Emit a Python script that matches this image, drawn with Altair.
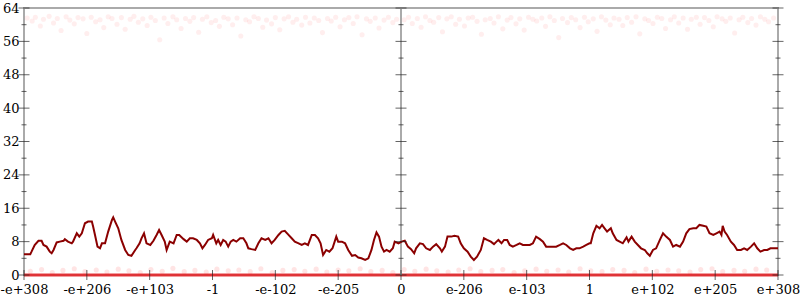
import altair as alt
import pandas as pd

# ---- axis tick labels -------------------------------------------------
x_tick_pos = [-6, -5, -4, -3, -2, -1, 0, 1, 2, 3, 4, 5, 6]
x_labels = ["-e+308", "-e+206", "-e+103", "-1", "-e-102", "-e-205", "0",
            "e-206", "e-103", "1", "e+102", "e+205", "e+308"]
y_major = [0, 8, 16, 24, 32, 40, 48, 56, 64]
y_minor = [4, 12, 20, 28, 36, 44, 52, 60]
axis_x = [-6, 0, 6]

# ---- running average of bits of error (dark red line) ----------------
avg_x = [-6.0,-5.9,-5.88,-5.83,-5.77,-5.72,-5.69,-5.64,-5.59,-5.56,-5.53,-5.48,-5.43,-5.37,-5.35,-5.3,-5.24,-5.22,-5.16,-5.12,
         -5.08,-5.03,-4.98,-4.92,-4.9,-4.87,-4.83,-4.79,-4.76,-4.71,-4.66,-4.6,-4.58,-4.55,-4.5,-4.45,-4.39,-4.34,-4.29,-4.23,
         -4.21,-4.16,-4.13,-4.09,-4.05,-3.99,-3.94,-3.89,-3.85,-3.81,-3.76,-3.73,-3.68,-3.62,-3.57,-3.53,-3.46,-3.41,-3.36,-3.31,
         -3.25,-3.2,-3.16,-3.12,-3.07,-3.01,
         -2.99,-2.94,-2.91,-2.87,-2.83,-2.79,-2.75,-2.71,-2.67,-2.62,-2.56,-2.51,-2.46,-2.43,-2.38,-2.32,-2.27,-2.22,-2.16,-2.11,
         -2.06,-2.01,-1.95,-1.9,-1.85,-1.79,-1.74,-1.69,-1.63,-1.58,-1.53,-1.48,-1.42,-1.37,-1.32,-1.28,-1.24,-1.19,-1.14,-1.09,
         -1.03,-1.0,-0.94,-0.89,-0.84,-0.78,-0.73,-0.68,-0.63,-0.57,-0.52,-0.47,-0.43,-0.39,-0.35,-0.31,-0.27,-0.23,-0.18,-0.13,
         -0.1,-0.04,
         0.01,0.06,0.11,0.16,0.21,0.24,0.3,0.35,0.4,0.46,0.51,0.56,0.62,0.65,0.7,0.74,0.8,0.85,0.91,0.95,
         1.0,1.06,1.11,1.16,1.21,1.27,1.32,1.37,1.43,1.48,1.52,1.55,1.6,1.64,1.69,1.73,1.78,1.84,1.89,1.94,
         1.99,2.05,2.1,2.15,2.21,2.26,2.31,2.37,2.42,2.47,2.53,2.58,2.63,2.69,2.74,2.79,2.84,2.9,2.95,3.0,
         3.02,3.06,3.11,3.16,3.2,3.24,3.28,3.34,3.37,3.43,3.48,3.53,3.59,3.62,3.67,3.72,3.77,3.82,3.88,3.92,
         3.96,4.01,4.06,4.12,4.17,4.22,4.28,4.33,4.38,4.44,4.49,4.54,4.59,4.65,4.7,4.75,4.81,4.86,4.91,4.97,
         5.02,5.07,5.1,5.12,5.15,5.19,5.25,5.3,5.35,5.41,5.46,5.51,5.57,5.62,5.67,5.72,5.78,5.83,5.88,5.94,
         6.0]
avg_y = [5.0,5.0,5.6,7.2,8.2,8.2,7.2,6.8,5.6,5.2,6.0,7.8,8.0,8.2,8.6,8.0,7.6,8.0,10.0,9.2,
         10.0,12.4,12.8,12.8,11.6,9.6,6.8,6.4,7.6,7.6,10.4,13.2,13.8,12.8,11.2,8.4,6.0,4.8,4.6,6.0,
         6.4,7.6,8.8,10.0,7.6,7.2,8.2,9.6,10.8,9.6,8.0,6.0,8.0,7.6,9.6,9.6,8.6,8.0,8.8,8.8,
         8.4,7.6,6.4,7.2,8.4,8.8,
         9.6,7.6,8.4,7.2,8.4,8.0,6.8,8.0,8.4,8.0,8.8,8.8,7.6,6.4,6.2,6.0,7.6,8.8,8.4,8.8,
         7.6,8.4,9.6,10.4,10.6,9.6,8.8,8.0,7.6,7.2,7.6,7.2,9.6,9.6,8.8,7.6,4.8,6.0,5.6,6.4,
         9.2,8.0,8.0,7.6,6.0,4.6,4.8,4.2,4.0,3.6,4.0,6.0,8.4,10.2,9.2,6.8,5.6,6.0,5.6,6.4,
         8.0,7.6,
         8.0,8.2,6.8,6.2,5.2,6.4,7.6,7.4,6.4,6.0,6.8,7.4,6.4,5.6,6.8,9.2,9.2,9.4,9.2,7.6,
         6.4,5.6,4.4,3.6,4.4,6.0,8.8,8.4,8.0,7.4,8.0,8.4,7.6,8.4,8.4,7.2,6.8,7.2,7.6,7.2,
         7.2,7.2,7.6,9.2,8.6,8.0,6.8,6.8,6.8,6.8,7.2,7.6,7.2,6.4,6.0,6.4,6.4,6.8,7.2,7.6,
         7.6,10.0,11.8,11.2,12.0,11.2,10.4,11.2,10.0,8.4,8.0,7.6,9.0,8.0,9.2,8.0,7.2,6.4,6.0,5.2,
         4.6,6.0,6.4,8.4,10.0,9.2,8.4,6.8,7.2,6.8,8.0,10.0,11.0,11.2,11.2,12.0,11.8,11.6,10.0,9.6,
         10.0,10.4,9.6,11.8,10.4,9.6,8.0,7.2,6.0,6.0,6.4,6.0,6.8,7.6,6.4,5.6,6.0,6.0,6.4,6.4,
         6.4]

# ---- high-error sample points (top band) -----------------------------
top_x = [-5.95,-5.87,-5.82,-5.74,-5.69,-5.6,-5.53,-5.47,-5.41,-5.33,
         -5.27,-5.2,-5.14,-5.06,-5.0,-4.93,-4.86,-4.79,-4.73,-4.66,
         -4.6,-4.52,-4.45,-4.39,-4.31,-4.25,-4.18,-4.11,-4.04,-3.98,
         -3.91,-3.84,-3.77,-3.71,-3.63,-3.57,-3.5,-3.43,-3.36,-3.3,
         -3.22,-3.16,-3.09,-3.02,-2.95,-2.89,-2.82,-2.75,-2.68,-2.61,
         -2.55,-2.47,-2.41,-2.34,-2.27,-2.2,-2.14,-2.06,-2.0,-1.93,
         -1.86,-1.79,-1.72,-1.66,-1.58,-1.52,-1.45,-1.38,-1.31,-1.25,
         -1.17,-1.11,-1.04,-0.97,-0.9,-0.83,-0.76,-0.7,-0.62,-0.55,
         -0.49,-0.41,-0.35,-0.27,-0.2,-0.13,-0.07,
         0.05,0.12,0.18,0.26,0.32,0.39,0.46,0.52,0.6,0.66,
         0.73,0.8,0.87,0.93,1.01,1.07,1.14,1.21,1.28,1.34,
         1.42,1.48,1.55,1.62,1.69,1.75,1.83,1.89,1.96,2.03,
         2.1,2.16,2.24,2.3,2.37,2.44,2.51,2.57,2.65,2.71,
         2.78,2.85,2.92,2.98,3.06,3.12,3.19,3.26,3.33,3.39,
         3.47,3.53,3.6,3.67,3.74,3.8,3.88,3.94,4.01,4.08,
         4.15,4.21,4.29,4.35,4.42,4.49,4.56,4.62,4.7,4.76,
         4.83,4.9,4.97,5.03,5.11,5.17,5.24,5.31,5.38,5.44,
         5.52,5.58,5.65,5.72,5.79,5.85,5.93]
top_y = [61.6,60.9,61.8,59.7,61.3,62.0,60.4,61.5,58.6,61.9,
         61.1,60.2,61.7,61.4,57.9,61.8,60.7,61.2,59.3,61.9,
         61.5,60.1,61.7,58.9,61.3,62.0,60.6,61.4,59.8,61.8,
         61.0,56.4,61.6,60.3,61.9,61.2,59.1,61.5,60.8,61.7,
         58.2,61.3,61.9,60.5,61.0,59.6,61.8,61.4,60.0,61.6,
         57.3,61.2,60.7,61.9,61.5,59.4,61.1,60.2,61.7,58.8,
         61.4,61.9,60.6,61.3,59.9,61.8,60.4,61.6,61.0,58.1,
         61.5,60.9,61.8,59.5,61.2,61.7,60.3,61.9,57.6,61.4,
         60.8,61.6,59.2,61.1,61.8,60.5,61.3,
         61.2,61.8,60.3,61.5,59.4,61.9,61.0,60.6,61.7,58.3,
         61.4,61.9,60.1,61.3,59.7,61.6,61.8,60.8,57.7,61.2,
         61.5,60.4,61.9,59.0,61.1,61.7,60.2,61.4,58.7,61.8,
         61.3,60.9,61.6,59.6,61.9,61.0,56.9,61.5,60.5,61.7,
         61.2,59.3,61.8,60.7,61.4,58.4,61.9,61.1,60.0,61.6,
         61.3,59.8,61.7,60.6,61.9,57.8,61.4,61.0,60.3,61.8,
         61.5,59.1,61.2,61.9,60.4,61.6,58.9,61.3,61.8,60.1,
         61.7,61.0,59.5,61.9,61.4,60.8,61.6,58.0,61.2,61.8,
         60.5,61.5,59.9,61.9,61.3,60.7,61.6]

# ---- low-error sample points (bottom band) ---------------------------
bottom_x = [-5.9,-5.72,-5.55,-5.38,-5.2,-5.03,-4.85,-4.68,-4.5,-4.33,
            -4.15,-3.98,-3.8,-3.63,-3.45,-3.28,-3.1,-2.93,-2.75,-2.58,
            -2.4,-2.23,-2.05,-1.88,-1.7,-1.53,-1.35,-1.18,-1.0,-0.83,
            -0.65,-0.48,-0.3,-0.13,0.05,0.22,0.4,0.57,0.75,0.92,
            1.1,1.27,1.45,1.62,1.8,1.97,2.15,2.32,2.5,2.67,
            2.85,3.02,3.2,3.37,3.55,3.72,3.9,4.07,4.25,4.42,
            4.6,4.77,4.95,5.12,5.3,5.47,5.65,5.82]
bottom_y = [0.9,1.3,0.6,1.1,1.5,0.8,1.2,0.7,1.4,1.0,
            0.6,1.3,0.9,1.6,0.8,1.1,0.7,1.4,1.0,1.2,
            0.8,1.5,0.6,1.1,1.3,0.9,1.4,0.7,1.2,1.0,
            1.5,0.8,1.1,0.6,1.3,0.9,1.4,1.0,0.7,1.2,
            1.5,0.8,1.1,1.3,0.6,1.0,1.4,0.9,1.2,0.7,
            1.5,1.0,0.8,1.3,1.1,0.6,1.4,0.9,1.2,1.0,
            0.7,1.3,1.5,0.8,1.1,0.9,1.4,1.2]
zero_x = [-6, 6]
zero_y = [0, 0]

FONT = "DejaVu Serif"
xs = alt.Scale(domain=[-6, 6], nice=False, zero=False)
ys = alt.Scale(domain=[0, 64], nice=False)

label_expr = "[" + ",".join("'%s'" % s for s in x_labels) + "][datum.value + 6]"

avg_df = pd.DataFrame({"x": avg_x, "y": avg_y})
top_df = pd.DataFrame({"x": top_x, "y": top_y})
bot_df = pd.DataFrame({"x": bottom_x, "y": bottom_y})
zero_df = pd.DataFrame({"x": zero_x, "y": zero_y})

ymaj_df = pd.DataFrame([{"x": a, "y": v} for a in axis_x for v in y_major])
ymin_df = pd.DataFrame([{"x": a, "y": v} for a in axis_x for v in y_minor])
xt_df = pd.DataFrame({"x": x_tick_pos, "y": [0] * len(x_tick_pos)})
center_df = pd.DataFrame({"x": [0, 0], "y": [0, 64]})

x_axis = alt.Axis(
    values=x_tick_pos, labelExpr=label_expr, ticks=False, domain=False, grid=False,
    labelOverlap=False, labelFlush=False,
    labelFont=FONT, labelFontSize=13, labelColor="#000", labelPadding=8, title=None)
y_axis = alt.Axis(
    values=y_major, ticks=False, domain=False, grid=False,
    labelOverlap=False, labelFlush=False,
    labelFont=FONT, labelFontSize=13, labelColor="#000", labelPadding=5, title=None)


def enc(ch):
    return ch.encode(x=alt.X("x:Q", scale=xs, axis=x_axis),
                     y=alt.Y("y:Q", scale=ys, axis=y_axis))


top_pts = enc(alt.Chart(top_df).mark_circle(size=26, color="#ff2020", opacity=0.08))
bot_pts = enc(alt.Chart(bot_df).mark_circle(size=26, color="#ff2020", opacity=0.12))
zero_band = enc(alt.Chart(zero_df).mark_line(color="#e4262a", strokeWidth=3, opacity=0.9))
center_line = enc(alt.Chart(center_df).mark_line(color="#aaaaaa", strokeWidth=2))
avg_line = enc(alt.Chart(avg_df).mark_line(color="#8b0000", strokeWidth=2))
ymaj = enc(alt.Chart(ymaj_df).mark_tick(orient="horizontal", size=11, thickness=1, color="#222"))
ymin = enc(alt.Chart(ymin_df).mark_tick(orient="horizontal", size=5, thickness=1, color="#222"))
xt = enc(alt.Chart(xt_df).mark_tick(orient="vertical", size=10, thickness=1, color="#222"))

chart = alt.layer(top_pts, bot_pts, zero_band, center_line, avg_line, ymaj, ymin, xt).properties(
    width=754, height=267,
    padding={"left": 24, "top": 8, "right": 22, "bottom": 25},
    autosize=alt.AutoSizeParams(type="none"),
).configure_view(stroke="#aaaaaa", strokeWidth=2)

chart.save("out.html", embed_options={"renderer": "svg", "actions": False})
